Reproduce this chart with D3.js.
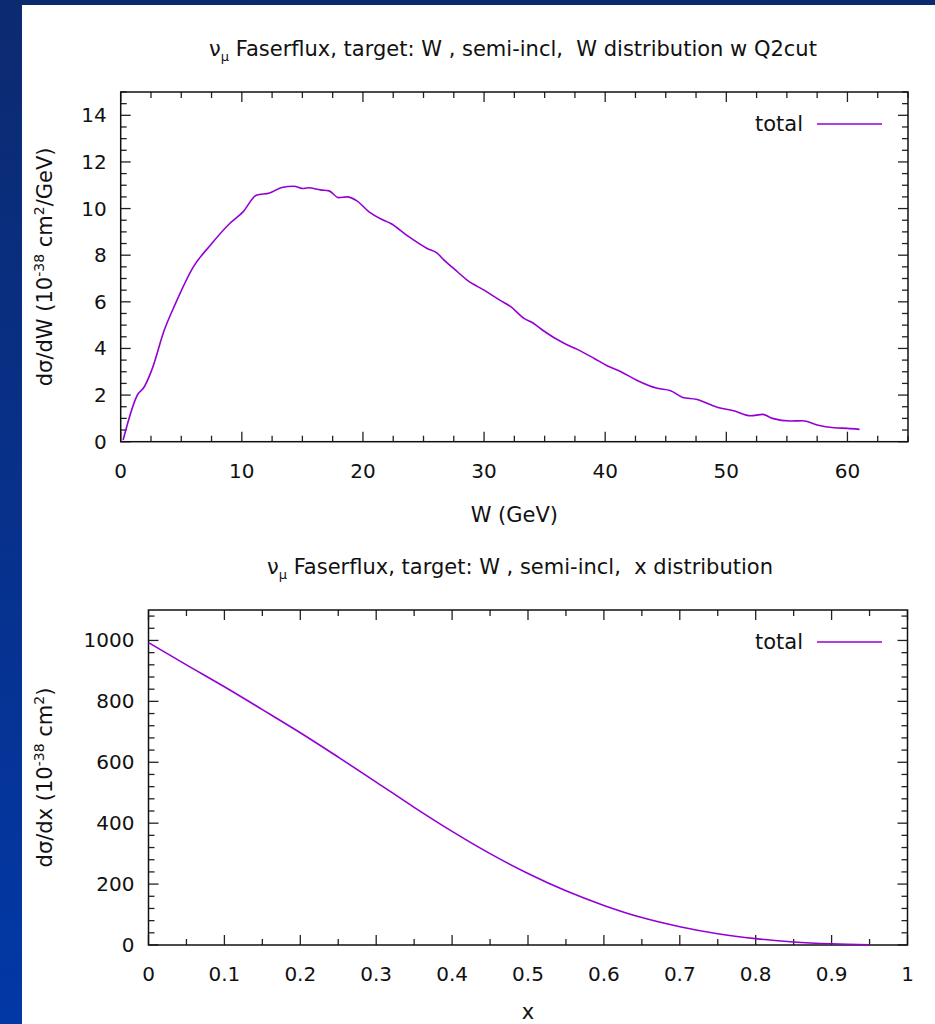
<!DOCTYPE html>
<html lang="en">
<head>
    <meta charset="UTF-8">
    <title>W and x distributions</title>
    <script src="https://d3js.org/d3.v7.min.js"></script>
    <style>
        html, body { margin: 0; padding: 0; background: #fff; }
        svg text { font-family: "DejaVu Sans", Verdana, sans-serif; fill: #111; white-space: pre; }
    </style>
</head>
<body>
    <svg id="chart" width="935" height="1024"></svg>

    <script>
        // W distribution (upper panel)
        const wGeV = [0.2, 1.45, 1.87, 2.56, 3.6, 4.5, 6.0, 7.4, 9.0, 10.1, 11.2, 12.3, 13.3, 14.3,
            15.0, 15.5, 16.5, 17.2, 18.0, 18.7, 19.5, 20.5, 21.7, 22.3, 23.6, 25.3, 26.1, 26.7,
            27.8, 28.6, 30.0, 31.3, 32.2, 33.3, 34.1, 34.9, 36.6, 37.7, 39.1, 40.2, 41.3, 42.6,
            44.3, 45.4, 46.4, 47.5, 49.3, 50.6, 52.0, 53.0, 53.8, 55.3, 56.3, 57.5, 58.9, 60.0, 61.0];
        const dsdW = [0.07, 2.07, 2.29, 3.07, 4.79, 5.9, 7.5, 8.43, 9.36, 9.86, 10.57, 10.67, 10.9, 10.96,
            10.86, 10.89, 10.8, 10.76, 10.47, 10.5, 10.33, 9.86, 9.5, 9.36, 8.86, 8.29, 8.1, 7.79,
            7.29, 6.93, 6.5, 6.07, 5.79, 5.29, 5.07, 4.76, 4.22, 3.96, 3.57, 3.25, 3.0, 2.64,
            2.29, 2.19, 1.9, 1.82, 1.47, 1.33, 1.11, 1.17, 1.0, 0.89, 0.9, 0.72, 0.6, 0.57, 0.53];

        // x distribution (lower panel)
        const xBj = [0, 0.05, 0.1, 0.15, 0.2, 0.25, 0.3, 0.35, 0.4, 0.45, 0.5, 0.55, 0.6, 0.65,
            0.7, 0.75, 0.8, 0.85, 0.9, 0.95];
        const dsdx = [993, 920, 848, 773, 697, 617, 535, 452, 373, 300, 235, 178, 130, 90,
            60, 37, 21, 10, 4, 1];

        const wTicks = [0, 10, 20, 30, 40, 50, 60];
        const wYTicks = [0, 2, 4, 6, 8, 10, 12, 14];
        const xTicks = [0, 0.1, 0.2, 0.3, 0.4, 0.5, 0.6, 0.7, 0.8, 0.9, 1];
        const xYTicks = [0, 200, 400, 600, 800, 1000];

        const lineColor = "#9400d3";
        const svg = d3.select("#chart");

        // slide background: blue band on the left and top
        const defs = svg.append("defs");
        const grad = defs.append("linearGradient")
            .attr("id", "slideBlue").attr("x1", 0).attr("y1", 0).attr("x2", 0).attr("y2", 1);
        grad.append("stop").attr("offset", "0%").attr("stop-color", "#0c2a70");
        grad.append("stop").attr("offset", "100%").attr("stop-color", "#0238a6");
        svg.append("rect").attr("width", 935).attr("height", 1024).attr("fill", "url(#slideBlue)");
        svg.append("rect").attr("x", 22).attr("y", 5).attr("width", 913).attr("height", 1019).attr("fill", "#fff");

        function drawPanel(opt) {
            const g = svg.append("g");
            const x = d3.scaleLinear().domain(opt.xDomain).range([opt.left, opt.right]);
            const y = d3.scaleLinear().domain(opt.yDomain).range([opt.bottom, opt.top]);

            // minor + major ticks on all four sides (gnuplot style mirror)
            const tk = g.append("g").attr("stroke", "#222").attr("stroke-width", 1.3);
            d3.range(opt.xDomain[0], opt.xDomain[1] + 1e-9, opt.xMinor).forEach(v => {
                const major = opt.xTicks.some(t => Math.abs(t - v) < 1e-6);
                const len = major ? 10 : 6;
                tk.append("line").attr("x1", x(v)).attr("x2", x(v)).attr("y1", opt.bottom).attr("y2", opt.bottom - len);
                tk.append("line").attr("x1", x(v)).attr("x2", x(v)).attr("y1", opt.top).attr("y2", opt.top + len);
            });
            d3.range(opt.yDomain[0], opt.yDomain[1] + 1e-9, opt.yMinor).forEach(v => {
                const major = opt.yTicks.some(t => Math.abs(t - v) < 1e-6);
                const len = major ? 10 : 6;
                tk.append("line").attr("y1", y(v)).attr("y2", y(v)).attr("x1", opt.left).attr("x2", opt.left + len);
                tk.append("line").attr("y1", y(v)).attr("y2", y(v)).attr("x1", opt.right).attr("x2", opt.right - len);
            });

            // frame
            g.append("rect")
                .attr("x", opt.left).attr("y", opt.top)
                .attr("width", opt.right - opt.left).attr("height", opt.bottom - opt.top)
                .attr("fill", "none").attr("stroke", "#111").attr("stroke-width", 1.5);

            // tick labels
            g.selectAll(".xl").data(opt.xTicks).enter().append("text")
                .attr("x", d => x(d)).attr("y", opt.bottom + 36)
                .attr("text-anchor", "middle").attr("font-size", 20)
                .text(d => d);
            g.selectAll(".yl").data(opt.yTicks).enter().append("text")
                .attr("x", opt.left - 14).attr("y", d => y(d) + 7)
                .attr("text-anchor", "end").attr("font-size", 20)
                .text(d => d);

            // curve
            const line = d3.line().x(d => x(d[0])).y(d => y(d[1])).curve(d3.curveMonotoneX);
            g.append("path")
                .datum(d3.zip(opt.xs, opt.ys))
                .attr("d", line)
                .attr("fill", "none").attr("stroke", lineColor).attr("stroke-width", 1.6);

            // legend
            const ly = opt.top + 32;
            g.append("text").attr("x", 803).attr("y", ly + 7)
                .attr("text-anchor", "end").attr("font-size", 21).text("total");
            g.append("line").attr("x1", 817).attr("x2", 882).attr("y1", ly).attr("y2", ly)
                .attr("stroke", lineColor).attr("stroke-width", 1.5);

            // title
            const t = g.append("text").attr("x", opt.titleX).attr("y", opt.top - 36)
                .attr("text-anchor", "middle").attr("font-size", 21);
            t.append("tspan").text("ν");
            t.append("tspan").attr("font-size", 13).attr("dy", 5).text("μ");
            t.append("tspan").attr("dy", -5).text(opt.title);

            // x label
            g.append("text").attr("x", (opt.left + opt.right) / 2).attr("y", opt.bottom + opt.xLabelDy)
                .attr("text-anchor", "middle").attr("font-size", 21).text(opt.xLabel);

            // y label (rotated, with superscripts)
            const yl = g.append("text")
                .attr("transform", `translate(52,${(opt.top + opt.bottom) / 2}) rotate(-90)`)
                .attr("text-anchor", "middle").attr("font-size", 21);
            yl.append("tspan").text(opt.yLabel[0] + " (10");
            yl.append("tspan").attr("font-size", 14).attr("dy", -8).text("-38");
            yl.append("tspan").attr("dy", 8).text(" cm");
            yl.append("tspan").attr("font-size", 14).attr("dy", -8).text("2");
            yl.append("tspan").attr("dy", 8).text(opt.yLabel[1] + ")");
        }

        drawPanel({
            left: 120.7, right: 908, top: 92, bottom: 441.7,
            xDomain: [0, 65], yDomain: [0, 15],
            xTicks: wTicks, yTicks: wYTicks, xMinor: 2.5, yMinor: 0.5,
            xs: wGeV, ys: dsdW,
            titleX: 513,
            title: " Faserflux, target: W , semi-incl,  W distribution w Q2cut",
            xLabel: "W (GeV)", xLabelDy: 80,
            yLabel: ["dσ/dW", "/GeV"]
        });

        drawPanel({
            left: 148.5, right: 907.5, top: 610, bottom: 945,
            xDomain: [0, 1], yDomain: [0, 1100],
            xTicks: xTicks, yTicks: xYTicks, xMinor: 0.05, yMinor: 40,
            xs: xBj, ys: dsdx,
            titleX: 520,
            title: " Faserflux, target: W , semi-incl,  x distribution",
            xLabel: "x", xLabelDy: 74,
            yLabel: ["dσ/dx", ""]
        });
    </script>
</body>
</html>
